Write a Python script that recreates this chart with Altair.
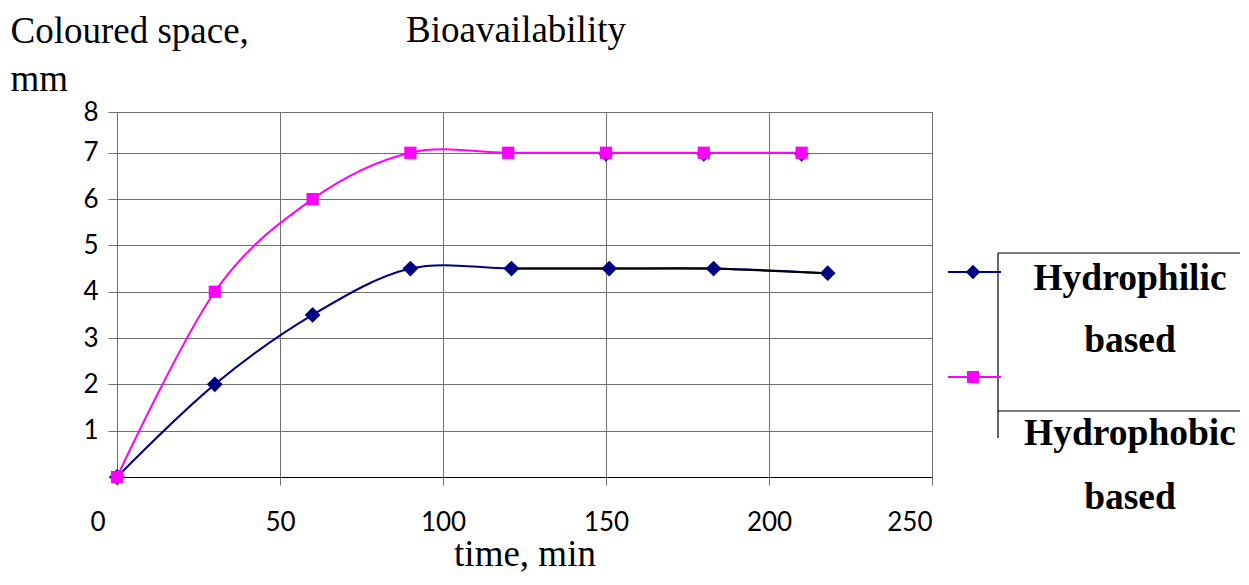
import altair as alt
import pandas as pd

# ---- data ----
philic_time = [0, 30, 60, 90, 121, 151, 183, 218]
philic_space = [0, 2, 3.5, 4.5, 4.5, 4.5, 4.5, 4.4]
phobic_time = [0, 30, 60, 90, 120, 150, 180, 210]
phobic_space = [0, 4, 6, 7, 7, 7, 7, 7]
# dark markers partly hidden behind the pink squares
hidden_time = [150, 180, 210]
hidden_space = [6.96, 6.96, 6.96]
x_ticks = [0, 50, 100, 150, 200, 250]
y_ticks = [0, 1, 2, 3, 4, 5, 6, 7, 7.88]
y_top = 7.88
legend_labels = ["Hydrophilic based", "Hydrophobic based"]

BLUE = "#000080"
PINK = "#FF00FF"
SERIF = "Liberation Serif"
SANS = "Lato"

philic = pd.DataFrame({"t": philic_time, "v": philic_space})
phobic = pd.DataFrame({"t": phobic_time, "v": phobic_space})
philic_tail = philic[philic["t"] >= 121]
hidden = pd.DataFrame({"t": hidden_time, "v": hidden_space})
dummy = pd.DataFrame({"a": [0]})

xs = alt.Scale(domain=[0, 250], nice=False, zero=False)
ys = alt.Scale(domain=[0, y_top], nice=False)

x_axis = alt.Axis(
    values=x_ticks, grid=True, title="time, min", titleFont=SERIF, titleFontSize=37,
    titleFontWeight="normal", titleColor="black", titleBaseline="alphabetic", titleY=88,
    labelFont=SANS, labelFontSize=26, labelColor="black", labelPadding=24, tickSize=8,
    labelOffset={"condition": {"test": "datum.value == 0", "value": -27}, "value": 0},
    domainColor="black", tickColor="#707070", gridColor="#707070",
)
y_axis = alt.Axis(
    values=y_ticks, grid=True, title=["Coloured space,", "mm"], titleFont=SERIF,
    titleFontSize=37, titleFontWeight="normal", titleColor="black", titleAngle=0,
    titleAlign="left", titleBaseline="alphabetic", titleX=-107, titleY=-70, titleLineHeight=48,
    labelFont=SANS, labelFontSize=26, labelColor="black", labelPadding=10, tickSize=9,
    labelExpr="datum.value == 0 ? '' : (datum.value > 7.5 ? '8' : datum.label)",
    domainColor="#707070", tickColor="#707070", gridColor="#707070",
)

X = alt.X("t:Q", scale=xs, axis=x_axis)
Y = alt.Y("v:Q", scale=ys, axis=y_axis)
Xn = alt.X("t:Q", scale=xs)
Yn = alt.Y("v:Q", scale=ys)

blue_line = alt.Chart(philic).mark_line(color=BLUE, strokeWidth=2, interpolate="cardinal").encode(x=X, y=Y)
pink_line = alt.Chart(phobic).mark_line(color=PINK, strokeWidth=2, interpolate="cardinal").encode(x=Xn, y=Yn)
black_seg = alt.Chart(philic_tail).mark_line(color="black", strokeWidth=2).encode(x=Xn, y=Yn)
hidden_pts = alt.Chart(hidden).mark_point(shape="diamond", filled=True, size=200, color=BLUE, opacity=1).encode(x=Xn, y=Yn)
blue_pts = alt.Chart(philic).mark_point(shape="diamond", filled=True, size=250, color=BLUE, opacity=1).encode(x=Xn, y=Yn)
pink_pts = alt.Chart(phobic).mark_point(shape="square", filled=True, size=150, color=PINK, opacity=1).encode(x=Xn, y=Yn)

# ---- decorations: title and the legend box ----
title = alt.Chart(dummy).mark_text(font=SERIF, fontSize=37, align="center", baseline="alphabetic", color="black").encode(
    x=alt.value(399), y=alt.value(-70), text=alt.value("Bioavailability"))

def rule(x1, x2, y1, y2, color="black", w=1.2):
    return alt.Chart(dummy).mark_rule(color=color, strokeWidth=w).encode(
        x=alt.value(x1), x2=alt.value(x2), y=alt.value(y1), y2=alt.value(y2))

box = [
    rule(881, 881, 141, 326),
    rule(881, 1132, 141, 141),
    rule(881, 1132, 299, 299),
    rule(831, 884, 160, 160, BLUE, 2),
    rule(831, 884, 265, 265, PINK, 2),
]
leg_pts = [
    alt.Chart(dummy).mark_point(shape="diamond", filled=True, size=210, color=BLUE, opacity=1).encode(
        x=alt.value(856), y=alt.value(160)),
    alt.Chart(dummy).mark_point(shape="square", filled=True, size=144, color=PINK, opacity=1).encode(
        x=alt.value(856), y=alt.value(265)),
]
words = legend_labels[0].split(" ") + legend_labels[1].split(" ")
ypos = [178, 240, 333, 397]
leg_txt = [
    alt.Chart(dummy).mark_text(font=SERIF, fontSize=37.5, fontWeight="bold", align="center",
                               baseline="alphabetic", color="black").encode(
        x=alt.value(1013), y=alt.value(yy), text=alt.value(w))
    for w, yy in zip(words, ypos)
]

chart = alt.layer(
    blue_line, pink_line, black_seg, hidden_pts, blue_pts, pink_pts, title, *box, *leg_pts, *leg_txt
).properties(
    width=815, height=365,
    autosize=alt.AutoSizeParams(type="none"),
    padding={"left": 109, "top": 104, "right": 308, "bottom": 100},
).configure_view(stroke=None).configure(background="white")

chart.save("out.html", embed_options={"renderer": "svg", "actions": False})
